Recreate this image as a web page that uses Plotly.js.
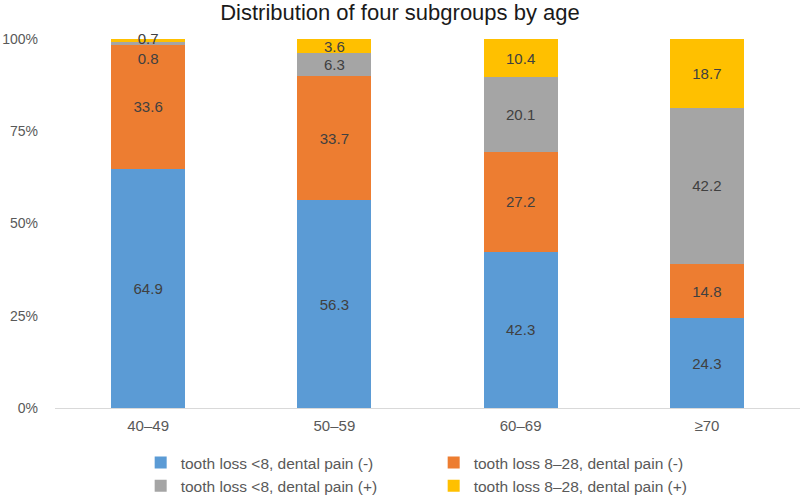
<!DOCTYPE html>
<html>
<head>
<meta charset="utf-8">
<script src="https://cdn.plot.ly/plotly-3.0.1.min.js"></script>
<style>html,body{margin:0;padding:0;background:#fff;}#chart{width:800px;height:496px;}</style>
</head>
<body>
<div id="chart"></div>
<script>
const categories = ['40\u201349', '50\u201359', '60\u201369', '\u226570'];
const seriesNames = [
  'tooth loss <8, dental pain (-)',
  'tooth loss 8\u201328, dental pain (-)',
  'tooth loss <8, dental pain (+)',
  'tooth loss 8\u201328, dental pain (+)'
];
const lowPainNeg = [64.9, 56.3, 42.3, 24.3];
const highPainNeg = [33.6, 33.7, 27.2, 14.8];
const lowPainPos = [0.8, 6.3, 20.1, 42.2];
const highPainPos = [0.7, 3.6, 10.4, 18.7];
const yTickVals = [0, 25, 50, 75, 100];
const yTickText = ['0%', '25%', '50%', '75%', '100%'];

const series = [lowPainNeg, highPainNeg, lowPainPos, highPainPos];
const colors = ['#5B9BD5', '#ED7D31', '#A5A5A5', '#FFC000'];
const SMALL = 2;
const font = 'Liberation Sans, Arial, sans-serif';

const traces = series.map((vals, i) => ({
  type: 'bar',
  name: seriesNames[i],
  x: categories,
  y: vals,
  marker: {color: colors[i]},
  text: vals.map(v => v >= SMALL ? v.toFixed(1) : ''),
  texttemplate: '%{text}',
  textposition: 'inside',
  insidetextanchor: 'middle',
  textangle: 0,
  cliponaxis: false,
  textfont: {family: font, size: 15, color: '#404040'},
  hoverinfo: 'skip'
}));

// labels for segments too thin to hold their value
const smallX = [], smallY = [], smallT = [], smallPos = [];
categories.forEach((c, ci) => {
  let base = 0;
  series.forEach((vals, si) => {
    const v = vals[ci];
    if (v < SMALL) {
      smallX.push(c);
      smallY.push(base + v / 2);
      smallT.push(v.toFixed(1));
      smallPos.push(si === series.length - 1 ? 'middle center' : 'bottom center');
    }
    base += v;
  });
});
traces.push({
  type: 'scatter',
  mode: 'markers+text',
  x: smallX,
  y: smallY,
  text: smallT,
  textposition: smallPos,
  marker: {size: 14, opacity: 0},
  textfont: {family: font, size: 15, color: '#404040'},
  showlegend: false,
  hoverinfo: 'skip',
  cliponaxis: false
});

const layout = {
  width: 800,
  height: 496,
  margin: {l: 55, r: 0, t: 39, b: 88},
  paper_bgcolor: '#ffffff',
  plot_bgcolor: '#ffffff',
  barmode: 'stack',
  bargap: 0.603,
  uniformtext: {mode: 'show', minsize: 15},
  title: {
    text: 'Distribution of four subgroups by age',
    font: {family: font, size: 22, color: '#1a1a1a'},
    x: 0.5, xanchor: 'center', xref: 'container',
    y: 0.976, yanchor: 'middle', yref: 'container'
  },
  xaxis: {
    type: 'category',
    categoryorder: 'array',
    categoryarray: categories,
    showline: true,
    linecolor: '#D9D9D9',
    linewidth: 1,
    ticks: '',
    showgrid: false,
    zeroline: false,
    tickfont: {family: font, size: 15, color: '#595959'},
    ticklabelstandoff: 4
  },
  yaxis: {
    range: [0, 100.02],
    tickvals: yTickVals,
    ticktext: yTickText,
    showgrid: false,
    zeroline: false,
    showline: false,
    ticks: '',
    tickfont: {family: font, size: 14, color: '#595959'},
    ticklabelstandoff: 16
  },
  legend: {
    orientation: 'h',
    x: 0.115, xanchor: 'left', xref: 'paper',
    y: 0.1008, yanchor: 'top', yref: 'container',
    traceorder: 'normal',
    entrywidth: 248,
    entrywidthmode: 'pixels',
    font: {family: font, size: 15.5, color: '#595959'},
    bgcolor: 'rgba(0,0,0,0)',
    tracegroupgap: 0
  },
  showlegend: true
};

Plotly.newPlot('chart', traces, layout, {displayModeBar: false, staticPlot: true});
</script>
</body>
</html>
